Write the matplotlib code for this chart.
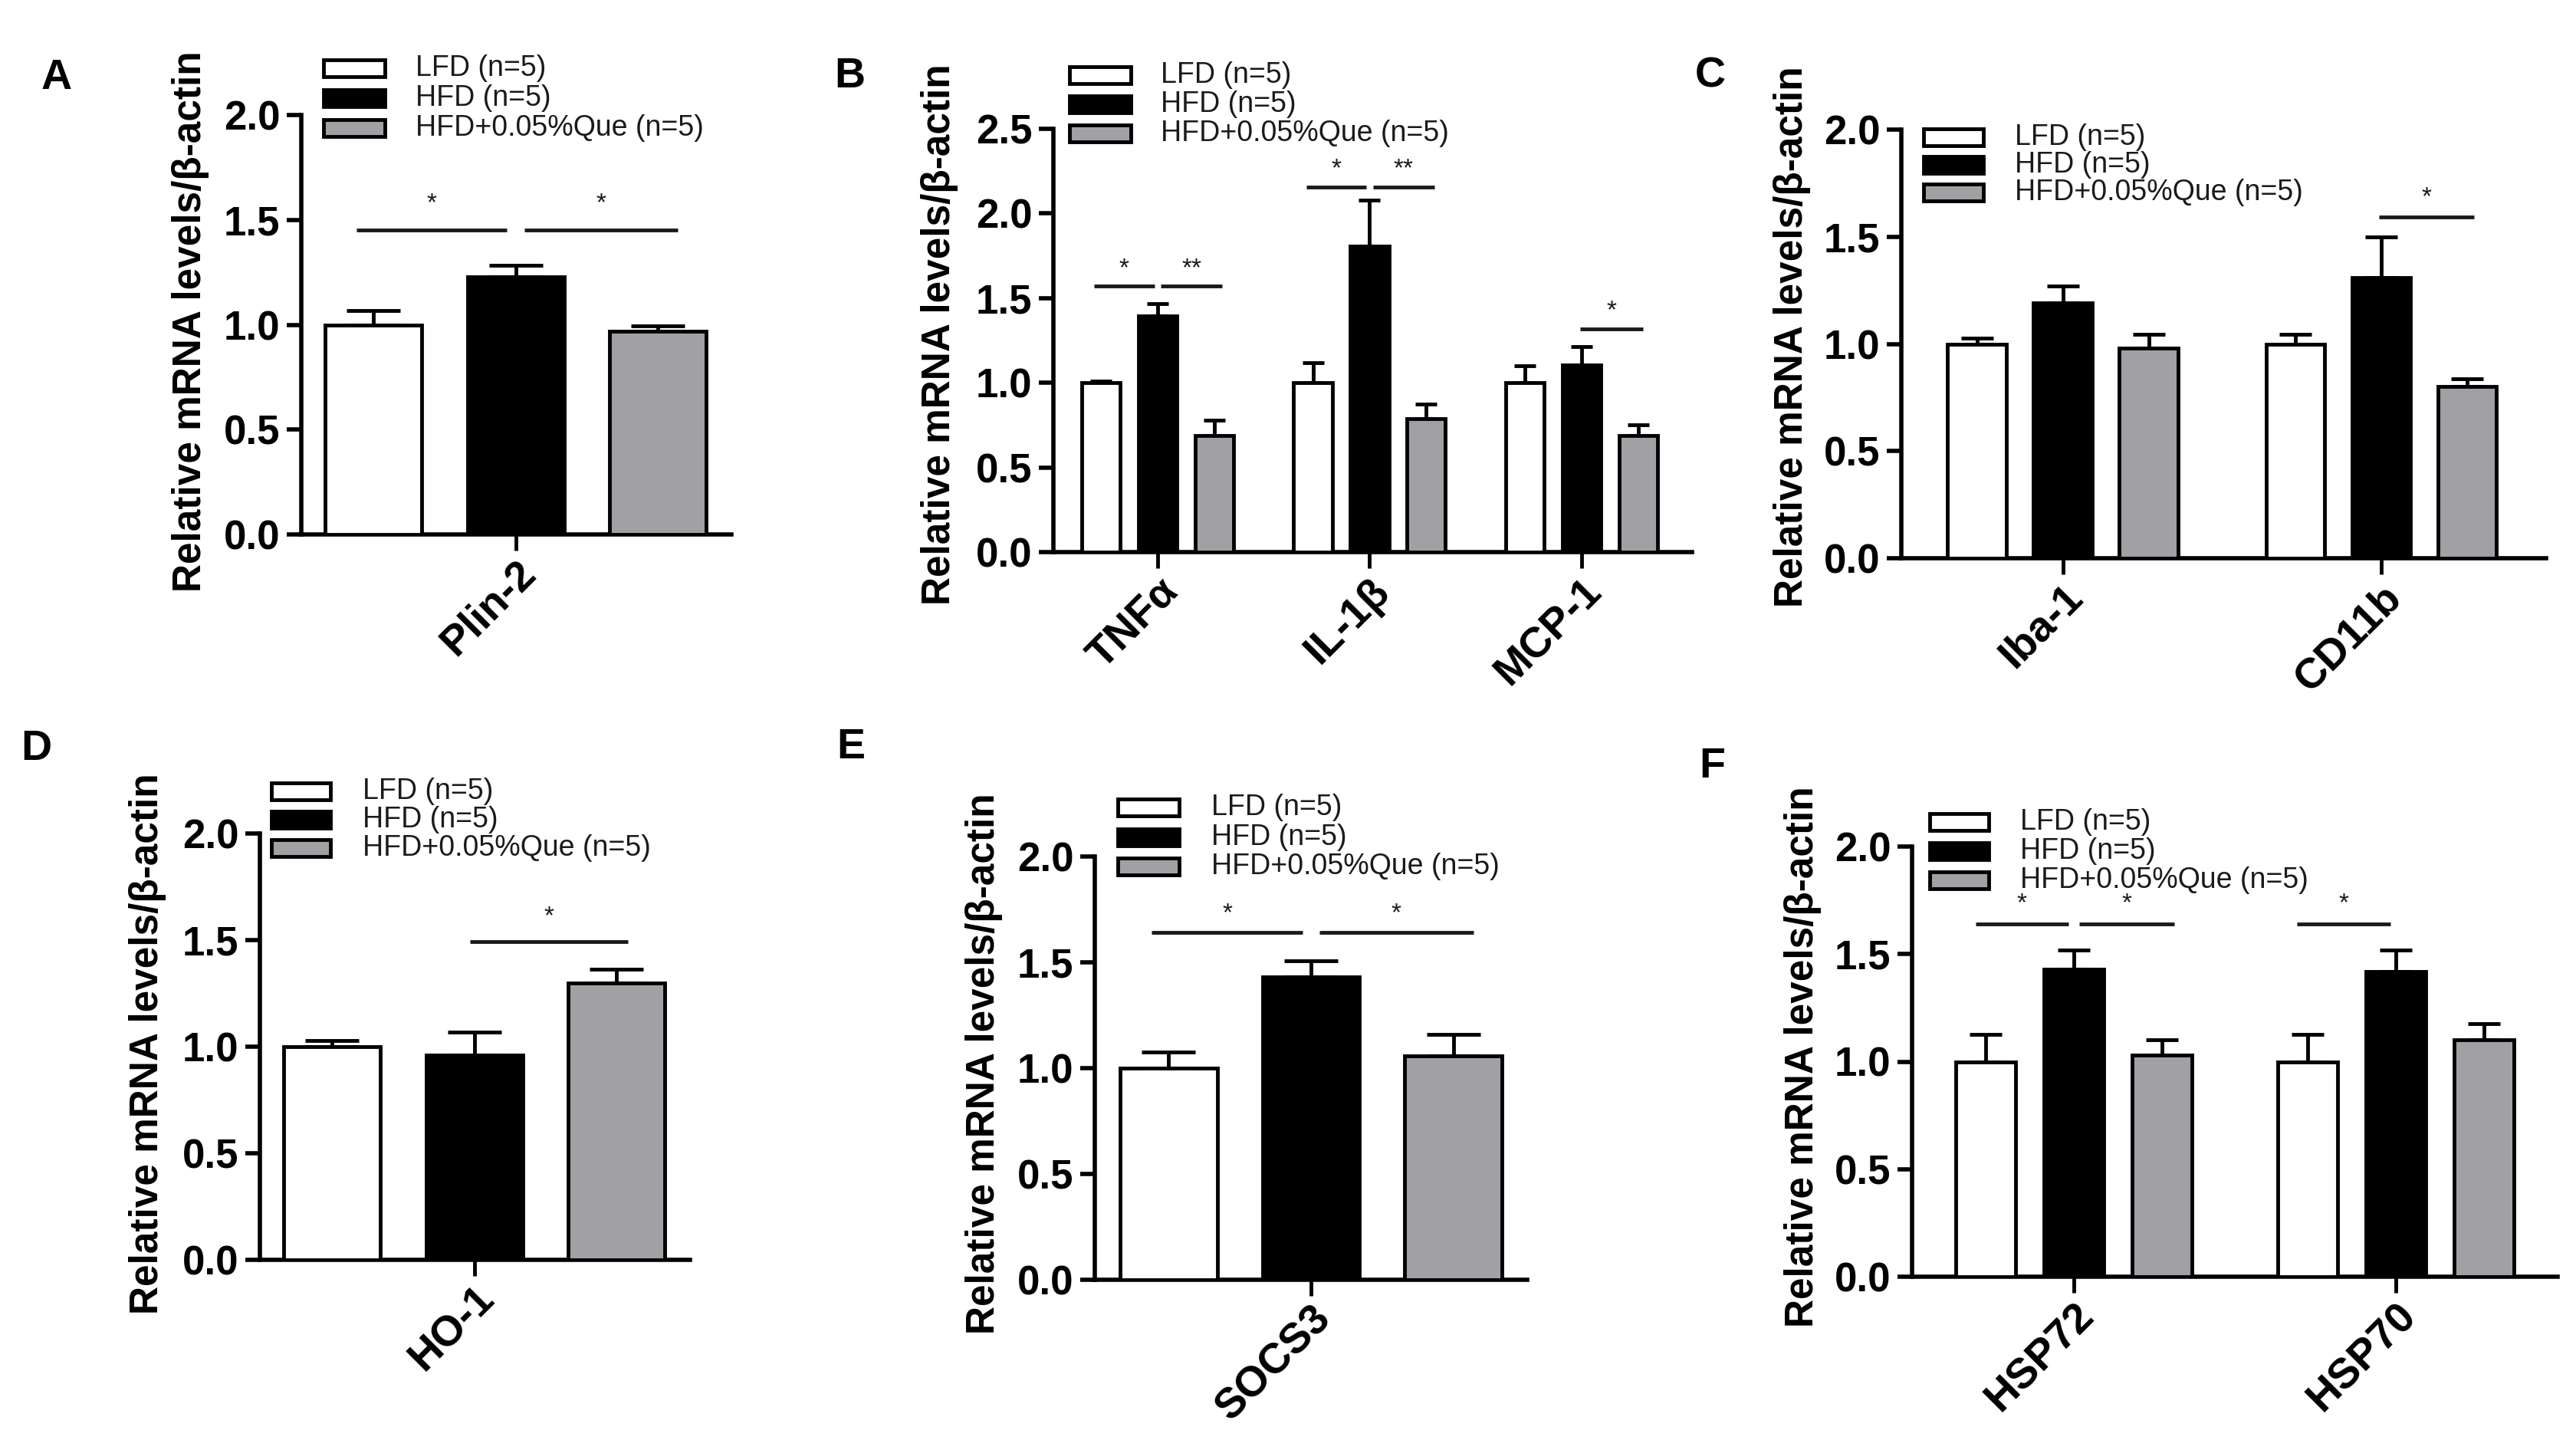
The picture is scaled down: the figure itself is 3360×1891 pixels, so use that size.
import numpy as np
import matplotlib
matplotlib.use("Agg")
import matplotlib.pyplot as plt
from matplotlib.patches import Rectangle
from matplotlib.ticker import FormatStrFormatter

plt.rcParams['font.family'] = ['Liberation Sans', 'DejaVu Sans']
plt.rcParams['font.weight'] = 'bold'

W, H, DPI = 3360, 1891, 100

# ---------------- data ----------------
group_labels = ['LFD (n=5)', 'HFD (n=5)', 'HFD+0.05%Que (n=5)']
group_colors = ['white', 'black', '#a0a0a5']

# Panel A
a_genes = ['Plin-2']
a_lfd, a_lfd_err = [1.00], [0.067]
a_hfd, a_hfd_err = [1.23], [0.053]
a_que, a_que_err = [0.97], [0.025]
a_sig = [(0, 0, 1, 1.453, '*'), (0, 1, 2, 1.453, '*')]

# Panel B
b_genes = ['TNFα', 'IL-1β', 'MCP-1']
b_lfd, b_lfd_err = [1.00, 1.00, 1.00], [0.01, 0.12, 0.10]
b_hfd, b_hfd_err = [1.395, 1.805, 1.103], [0.072, 0.273, 0.11]
b_que, b_que_err = [0.688, 0.786, 0.688], [0.09, 0.088, 0.064]
b_sig = [(0, 0, 1, 1.57, '*'), (0, 1, 2, 1.57, '**'),
         (1, 0, 1, 2.156, '*'), (1, 1, 2, 2.156, '**'),
         (2, 1, 2, 1.317, '*')]

# Panel C
c_genes = ['Iba-1', 'CD11b']
c_lfd, c_lfd_err = [1.00, 1.00], [0.027, 0.044]
c_hfd, c_hfd_err = [1.19, 1.31], [0.08, 0.19]
c_que, c_que_err = [0.982, 0.80], [0.062, 0.038]
c_sig = [(1, 1, 2, 1.592, '*')]

# Panel D
d_genes = ['HO-1']
d_lfd, d_lfd_err = [1.00], [0.03]
d_hfd, d_hfd_err = [0.96], [0.108]
d_que, d_que_err = [1.30], [0.065]
d_sig = [(0, 1, 2, 1.494, '*')]

# Panel E
e_genes = ['SOCS3']
e_lfd, e_lfd_err = [1.00], [0.076]
e_hfd, e_hfd_err = [1.43], [0.079]
e_que, e_que_err = [1.058], [0.103]
e_sig = [(0, 0, 1, 1.641, '*'), (0, 1, 2, 1.641, '*')]

# Panel F
f_genes = ['HSP72', 'HSP70']
f_lfd, f_lfd_err = [1.00, 1.00], [0.125, 0.125]
f_hfd, f_hfd_err = [1.43, 1.418], [0.09, 0.10]
f_que, f_que_err = [1.03, 1.10], [0.07, 0.075]
f_sig = [(0, 0, 1, 1.64, '*'), (0, 1, 2, 1.64, '*'), (1, 0, 1, 1.64, '*')]

ylabel_text = 'Relative mRNA levels/β-actin'

# ---------------- layout (pixels) ----------------
panels = [
    dict(letter='A', letter_xy=(74, 102), genes=a_genes,
         vals=[a_lfd, a_hfd, a_que], errs=[a_lfd_err, a_hfd_err, a_que_err],
         sig=a_sig, star_off=34, ymax=2.0, box=(393, 150, 954, 697), gap=3.7, xlim=(-1.51, 1.52),
         ylab=(249, 419), leg=(422, 502, 88.7, 39, 542)),
    dict(letter='B', letter_xy=(1108, 100), genes=b_genes,
         vals=[b_lfd, b_hfd, b_que], errs=[b_lfd_err, b_hfd_err, b_que_err],
         sig=b_sig, star_off=23, ymax=2.5, box=(1374, 168, 2207, 720), gap=3.74, xlim=(-1.84, 9.43),
         ylab=(1226, 436), leg=(1395, 1475, 97.6, 38.3, 1514)),
    dict(letter='C', letter_xy=(2231, 100), genes=c_genes,
         vals=[c_lfd, c_hfd, c_que], errs=[c_lfd_err, c_hfd_err, c_que_err],
         sig=c_sig, star_off=25, ymax=2.0, box=(2480, 169, 3321, 728), gap=3.71, xlim=(-1.88, 5.63),
         ylab=(2337, 439), leg=(2509, 2587, 178.6, 36.2, 2628)),
    dict(letter='D', letter_xy=(47, 977), genes=d_genes,
         vals=[d_lfd, d_hfd, d_que], errs=[d_lfd_err, d_hfd_err, d_que_err],
         sig=d_sig, star_off=32, ymax=2.0, box=(339, 1087, 900, 1643), gap=3.7, xlim=(-1.51, 1.52),
         ylab=(193, 1361), leg=(354, 431, 1031.5, 37.2, 473)),
    dict(letter='E', letter_xy=(1110, 975), genes=e_genes,
         vals=[e_lfd, e_hfd, e_que], errs=[e_lfd_err, e_hfd_err, e_que_err],
         sig=e_sig, star_off=24, ymax=2.0, box=(1428, 1117, 1992, 1669), gap=3.7, xlim=(-1.52, 1.52),
         ylab=(1283, 1387), leg=(1458, 1538, 1053, 38.7, 1580)),
    dict(letter='F', letter_xy=(2233, 1000), genes=f_genes,
         vals=[f_lfd, f_hfd, f_que], errs=[f_lfd_err, f_hfd_err, f_que_err],
         sig=f_sig, star_off=26, ymax=2.0, box=(2494, 1104, 3336, 1665), gap=3.66, xlim=(-1.84, 5.5),
         ylab=(2352, 1378), leg=(2517, 2594, 1071.7, 38.1, 2635)),
]

BAR_W = 0.68
EDGE = 3.5
fig = plt.figure(figsize=(W / DPI, H / DPI), dpi=DPI)
fig.patch.set_facecolor('white')

for p in panels:
    l, t, r, b = p['box']
    ax = fig.add_axes([l / W, 1 - b / H, (r - l) / W, (b - t) / H])
    n = len(p['genes'])
    centers = np.arange(n) * p['gap']
    ax.set_xlim(*p['xlim'])
    ax.set_ylim(0, p['ymax'])
    ppu = (r - l) / (p['xlim'][1] - p['xlim'][0])
    cap_pt = 0.275 * BAR_W * ppu * 72 / DPI
    for k in range(3):
        xs = centers + (k - 1) * 1.0
        ax.bar(xs, p['vals'][k], width=BAR_W, color=group_colors[k],
               edgecolor='black', linewidth=EDGE, zorder=3)
        ax.errorbar(xs, p['vals'][k], yerr=[np.zeros(n), p['errs'][k]], fmt='none',
                    ecolor='black', elinewidth=EDGE, capsize=cap_pt, capthick=EDGE, zorder=2)

    # significance bars
    genes_with_left = {s[0] for s in p['sig'] if s[1] == 0}
    for gi, i, j, y, lab in p['sig']:
        c = centers[gi]
        if i == 0:
            x1, x2 = c - 1.12, c - 0.06
        elif gi in genes_with_left:
            x1, x2 = c + 0.06, c + 1.14
        else:
            x1, x2 = c - 0.03, c + 1.08
        ax.plot([x1, x2], [y, y], color='#1a1a1a', lw=3.5, solid_capstyle='butt',
                clip_on=False, zorder=4)
        ax.annotate(lab, xy=((x1 + x2) / 2, y), xytext=(0, p['star_off']),
                    textcoords='offset pixels', ha='center', va='center', fontsize=24,
                    fontweight='normal', color='#1a1a1a', annotation_clip=False)

    # axes styling
    for s in ['top', 'right']:
        ax.spines[s].set_visible(False)
    for s in ['left', 'bottom']:
        ax.spines[s].set_linewidth(4)
    ax.set_yticks(np.arange(0, p['ymax'] + 0.01, 0.5))
    ax.yaxis.set_major_formatter(FormatStrFormatter('%.1f'))
    ax.tick_params(axis='y', length=14, width=4, labelsize=38, pad=6)
    ax.set_xticks(centers)
    ax.set_xticklabels(p['genes'], rotation=45, ha='right', va='top',
                       rotation_mode='anchor', fontsize=40, fontweight='bold')
    ax.tick_params(axis='x', length=15, width=3.5, pad=3)
    ax.set_ylabel(ylabel_text, fontsize=37, fontweight='bold', va='center')
    lx, ly = p['ylab']
    ax.yaxis.set_label_coords((lx - l) / (r - l), (b - ly) / (b - t))

    # legend (drawn manually)
    bx0, bx1, cy0, dy, tx = p['leg']
    bh = 22
    for k in range(3):
        cy = cy0 + k * dy
        fig.add_artist(Rectangle((bx0 / W, 1 - (cy + bh / 2) / H), (bx1 - bx0) / W, bh / H,
                                 transform=fig.transFigure, facecolor=group_colors[k],
                                 edgecolor='black', linewidth=EDGE))
        fig.text(tx / W, 1 - cy / H, group_labels[k], fontsize=27, fontweight='normal',
                 ha='left', va='center', color='#1a1a1a')

    # panel letter
    lx2, ly2 = p['letter_xy']
    fig.text(lx2 / W, 1 - ly2 / H, p['letter'], fontsize=40, fontweight='bold',
             ha='center', va='center')

fig.savefig('out.png', dpi=DPI, facecolor='white')
